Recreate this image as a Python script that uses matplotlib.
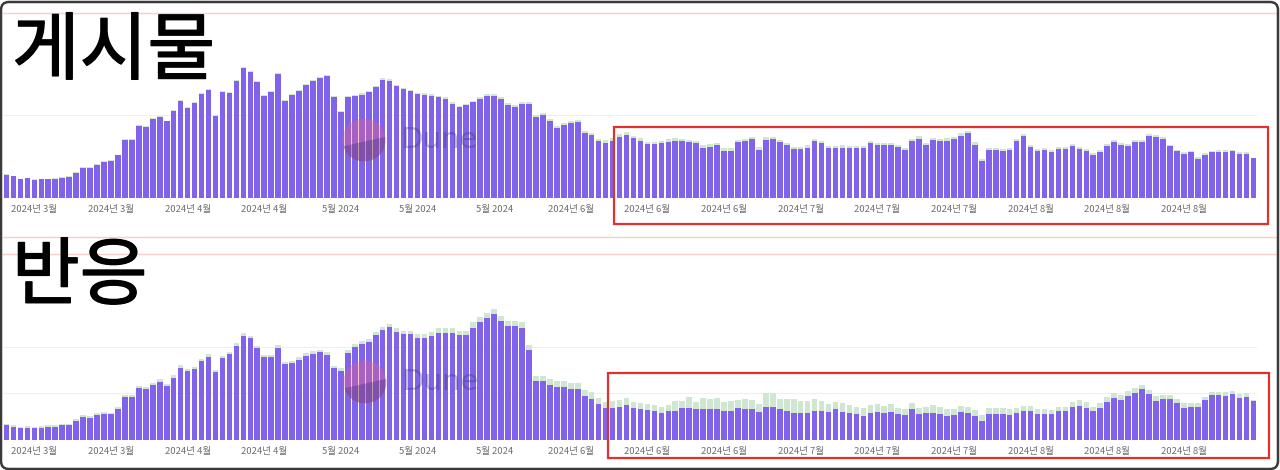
import numpy as np
import matplotlib
matplotlib.use("Agg")
import matplotlib.pyplot as plt
import matplotlib.patheffects as pe
from matplotlib.patches import Rectangle, Circle, Polygon, FancyBboxPatch
from matplotlib.lines import Line2D

plt.rcParams['font.family'] = ['Noto Sans CJK KR', 'DejaVu Sans']

# daily bars, ~180 days (Mar - Aug 2024)
posts_main = [
    23.3, 21.7, 19.0, 20.0, 18.3, 19.0, 19.0, 19.3, 20.0, 21.0,
    25.0, 30.0, 30.0, 33.3, 36.0, 37.3, 42.6, 58.3, 58.3, 72.3,
    71.0, 79.3, 81.0, 76.6, 87.3, 96.6, 90.0, 95.0, 104.3, 108.3,
    82.3, 105.6, 105.0, 117.3, 129.6, 126.0, 116.0, 101.6, 105.6, 123.6,
    97.3, 102.6, 106.6, 113.0, 117.3, 120.0, 121.6, 100.6, 86.0, 100.6,
    101.6, 103.3, 106.0, 111.0, 118.3, 117.3, 111.6, 109.0, 106.6, 104.0,
    103.0, 102.0, 100.6, 99.0, 94.0, 90.6, 92.6, 95.6, 99.0, 102.0,
    102.0, 99.0, 93.0, 90.6, 94.0, 94.0, 80.6, 83.0, 77.3, 70.3,
    73.0, 75.3, 76.3, 65.3, 63.0, 57.0, 55.3, 57.3, 61.3, 63.3,
    60.3, 57.3, 53.7, 53.7, 54.7, 56.3, 57.0, 56.6, 55.7, 54.7,
    50.0, 51.3, 53.0, 47.3, 47.3, 55.7, 57.0, 58.7, 48.0, 58.0,
    58.7, 55.7, 53.0, 49.0, 49.0, 50.3, 57.0, 54.7, 49.7, 49.7,
    50.3, 49.7, 50.0, 50.0, 55.0, 52.6, 52.6, 52.6, 50.6, 48.3,
    56.6, 59.3, 52.6, 57.6, 56.6, 57.3, 59.0, 62.3, 65.0, 53.3,
    36.6, 47.6, 48.3, 46.6, 47.6, 57.3, 62.3, 50.6, 46.6, 47.6,
    46.0, 49.0, 49.3, 52.3, 49.3, 47.3, 42.6, 46.0, 51.6, 56.0,
    53.3, 52.3, 56.0, 56.0, 61.6, 61.0, 59.0, 51.6, 46.6, 44.0,
    45.6, 39.0, 43.3, 45.6, 46.3, 46.0, 46.6, 44.0, 44.0, 39.6,
]
posts_extra = [
    0.6, 0.6, 0.5, 0.5, 0.5, 0.5, 0.5, 0.5, 0.6, 0.6,
    0.6, 0.7, 0.7, 0.7, 0.7, 0.7, 0.8, 0.8, 0.8, 0.9,
    0.9, 0.9, 0.9, 0.9, 1.0, 1.0, 1.0, 1.0, 1.0, 1.0,
    0.9, 1.0, 1.0, 1.1, 1.1, 1.1, 1.0, 1.0, 1.0, 1.1,
    1.0, 1.0, 1.1, 1.1, 1.1, 1.2, 1.2, 1.1, 1.1, 1.2,
    1.2, 1.3, 1.3, 1.3, 1.4, 1.4, 1.4, 1.4, 1.5, 1.5,
    1.6, 1.6, 1.7, 1.7, 1.7, 1.8, 1.8, 1.8, 1.8, 1.9,
    1.9, 1.9, 1.9, 2.0, 2.0, 2.0, 2.0, 2.0, 2.1, 2.1,
    2.1, 2.1, 2.2, 2.2, 2.2, 2.3, 2.3, 2.4, 2.3, 2.3,
    2.2, 2.3, 2.4, 2.5, 2.6, 2.4, 2.6, 2.6, 2.5, 2.4,
    2.6, 2.5, 2.5, 2.6, 2.7, 2.4, 2.5, 2.6, 2.7, 2.8,
    2.7, 2.6, 2.5, 2.5, 2.4, 2.4, 2.5, 2.4, 2.3, 2.3,
    2.3, 2.4, 2.3, 2.3, 2.4, 2.4, 2.4, 2.3, 2.2, 2.2,
    2.3, 2.3, 2.3, 2.4, 2.3, 2.3, 2.4, 2.4, 2.4, 2.3,
    2.2, 2.2, 2.2, 2.3, 2.2, 2.2, 2.1, 2.1, 2.1, 2.1,
    2.0, 2.0, 2.0, 2.1, 2.1, 2.0, 1.9, 1.9, 2.0, 2.0,
    2.0, 2.0, 1.9, 1.9, 2.0, 2.0, 1.9, 1.9, 1.8, 1.8,
    1.7, 1.7, 1.6, 1.7, 1.7, 1.8, 1.7, 1.7, 1.6, 0.3,
]
reactions_main = [
    15.0, 13.3, 11.7, 12.3, 11.7, 12.3, 13.3, 13.3, 15.0, 15.0,
    19.0, 23.3, 22.3, 25.0, 26.0, 25.7, 30.7, 42.7, 43.3, 52.3,
    51.0, 55.0, 58.3, 54.3, 62.3, 72.3, 69.0, 71.0, 79.0, 83.3,
    67.7, 81.7, 85.7, 94.3, 104.0, 101.7, 91.7, 82.7, 82.7, 92.3,
    75.7, 76.7, 80.0, 84.3, 86.0, 87.7, 85.0, 71.7, 69.3, 86.7,
    92.7, 96.0, 97.7, 105.0, 110.0, 113.0, 108.3, 106.0, 105.7, 102.3,
    101.7, 104.3, 106.7, 106.7, 106.7, 105.0, 105.0, 112.3, 118.3, 122.3,
    126.0, 119.0, 114.3, 114.3, 112.3, 90.0, 59.0, 59.0, 55.0, 52.7,
    52.7, 51.0, 51.0, 44.3, 41.0, 36.0, 31.7, 31.7, 33.3, 35.0,
    32.3, 31.0, 30.0, 29.0, 27.3, 29.3, 29.3, 31.7, 32.3, 31.0,
    31.0, 31.0, 31.0, 29.0, 29.0, 32.3, 31.0, 30.7, 27.7, 33.3,
    33.3, 31.0, 29.3, 27.3, 27.3, 27.3, 29.0, 29.0, 28.3, 30.7,
    28.3, 27.3, 26.0, 24.3, 27.3, 28.3, 26.7, 28.3, 26.0, 25.0,
    30.7, 26.0, 26.7, 27.3, 25.7, 24.3, 25.0, 27.7, 26.7, 24.0,
    19.0, 25.7, 25.7, 26.0, 25.0, 26.7, 29.0, 29.0, 25.7, 25.7,
    25.7, 29.0, 29.0, 32.7, 34.3, 32.3, 29.3, 32.3, 38.3, 42.3,
    40.0, 44.3, 47.3, 51.0, 45.7, 39.3, 40.7, 40.7, 36.7, 32.3,
    33.3, 33.3, 40.0, 45.0, 45.0, 44.0, 45.7, 41.7, 43.3, 39.3,
]
reactions_extra = [
    1.5, 1.5, 1.3, 1.3, 1.3, 1.3, 1.5, 1.5, 1.5, 1.5,
    1.7, 1.7, 1.7, 1.8, 1.8, 1.8, 2.0, 2.0, 2.0, 2.2,
    2.2, 2.2, 2.3, 2.2, 2.3, 2.5, 2.3, 2.3, 2.5, 2.5,
    2.3, 2.5, 2.5, 2.7, 2.7, 2.7, 2.5, 2.5, 2.5, 2.7,
    2.5, 2.5, 2.7, 2.7, 2.7, 2.8, 2.7, 2.5, 2.5, 3.0,
    3.0, 3.2, 3.2, 3.3, 3.5, 3.5, 3.5, 3.5, 3.7, 3.7,
    4.3, 4.0, 5.0, 5.0, 5.0, 4.0, 4.0, 5.3, 5.0, 5.0,
    5.0, 5.3, 5.0, 5.0, 5.3, 5.0, 5.3, 5.3, 6.0, 6.3,
    6.0, 5.7, 5.7, 5.7, 6.7, 6.3, 6.7, 7.3, 6.7, 6.7,
    6.0, 6.3, 6.0, 6.0, 6.0, 5.7, 10.0, 7.3, 10.3, 6.7,
    10.7, 10.0, 10.7, 9.3, 10.0, 7.7, 9.7, 9.3, 8.0, 13.3,
    13.3, 10.0, 11.7, 13.3, 11.7, 11.7, 12.0, 10.3, 7.7, 7.7,
    8.3, 7.7, 7.3, 7.3, 7.7, 7.7, 7.7, 7.3, 5.7, 6.0,
    6.7, 6.3, 6.7, 7.7, 7.0, 6.7, 6.0, 6.7, 6.7, 6.0,
    6.0, 6.0, 6.0, 5.7, 6.0, 5.7, 5.3, 5.3, 5.3, 5.3,
    4.3, 4.3, 4.3, 5.0, 5.7, 5.3, 4.0, 4.3, 4.3, 4.3,
    5.0, 4.7, 4.3, 4.0, 4.3, 4.7, 4.3, 4.3, 4.3, 4.3,
    3.3, 3.3, 2.7, 3.3, 3.3, 4.3, 3.7, 4.0, 3.3, 0.5,
]
tick_pos = [4, 15, 26, 37, 48, 59, 70, 81, 92, 103, 114, 125, 136, 147, 158, 169]
tick_labels = ['2024년 3월', '2024년 3월', '2024년 4월', '2024년 4월',
               '5월 2024', '5월 2024', '5월 2024',
               '2024년 6월', '2024년 6월', '2024년 6월',
               '2024년 7월', '2024년 7월', '2024년 7월',
               '2024년 8월', '2024년 8월', '2024년 8월']

W, H = 1280, 470
purple = '#8062eb'
green = '#cfe7d1'
pink = '#f5cfc9'

fig = plt.figure(figsize=(W / 100, H / 100), dpi=100)
fig.patch.set_facecolor('white')


def add_panel(top_px, base_px, main, extra, grids):
    ax = fig.add_axes([3 / W, 1 - base_px / H, 1254 / W, (base_px - top_px) / H])
    x = np.arange(len(main))
    ax.bar(x, main, width=0.8, color=purple, zorder=2)
    ax.bar(x, extra, bottom=main, width=0.8, color=green, zorder=2)
    for g in grids:
        ax.axhline(g, color='#efefef', lw=0.8, zorder=0)
    ax.set_xlim(-0.5, len(main) - 0.5)
    ax.set_ylim(0, base_px - top_px)
    ax.set_xticks(tick_pos)
    ax.set_xticklabels(tick_labels)
    ax.tick_params(axis='x', length=0, pad=5, labelsize=6.8, labelcolor='#707070')
    ax.set_yticks([])
    for s in ax.spines.values():
        s.set_visible(False)
    ax.patch.set_alpha(0)
    return ax


add_panel(13, 198, posts_main, posts_extra, [83])
add_panel(254, 440, reactions_main, reactions_extra, [47, 93])

# pink separator lines
for yy in [13, 237, 254]:
    fig.add_artist(Line2D([3 / W, 1277 / W], [1 - yy / H, 1 - yy / H],
                          color=pink, lw=1.0))

inch = fig.dpi_scale_trans


def watermark(cx, cy):
    cxi, cyi, r = cx / 100, (H - cy) / 100, 0.215
    c = Circle((cxi, cyi), r, transform=inch, facecolor='#f0607a', alpha=0.35,
               edgecolor='none', zorder=5)
    fig.add_artist(c)
    clip = Circle((cxi, cyi), r, transform=inch, facecolor='none', edgecolor='none')
    fig.add_artist(clip)
    poly = Polygon([(cxi - r, cyi - 0.3 * r), (cxi + r, cyi + 0.15 * r),
                    (cxi + r, cyi - r), (cxi - r, cyi - r)],
                   transform=inch, facecolor='#2a2a70', alpha=0.3, edgecolor='none', zorder=6)
    fig.add_artist(poly)
    poly.set_clip_path(clip)
    fig.text((cx + 36) / W, 1 - cy / H, 'Dune', fontsize=21, family='DejaVu Sans',
             color='#3a3a66', alpha=0.35, ha='left', va='center', zorder=6)


watermark(364, 140)
watermark(365, 382)

# red highlight boxes
for (x0, y0, x1, y1) in [(614, 127, 1268, 224), (608, 373, 1269, 458)]:
    fig.add_artist(Rectangle((x0 / 100, (H - y1) / 100), (x1 - x0) / 100, (y1 - y0) / 100,
                             transform=inch, fill=False, edgecolor='#e3302e', lw=1.6, zorder=7))

# big titles
thick = [pe.withStroke(linewidth=1.0, foreground='black')]
fig.text(12 / W, 1 - 15 / H, '게시물', fontsize=53, color='black',
         ha='left', va='top', zorder=8, path_effects=thick)
fig.text(12 / W, 1 - 240 / H, '반응', fontsize=53, color='black',
         ha='left', va='top', zorder=8, path_effects=thick)

# screenshot frame
fig.add_artist(FancyBboxPatch((0.01, 0.01), W / 100 - 0.03, H / 100 - 0.03,
                              boxstyle='round,pad=0,rounding_size=0.08', transform=inch,
                              fill=False, edgecolor='#3a3a3a', lw=1.8, zorder=9))

fig.savefig('out.png', dpi=100)
